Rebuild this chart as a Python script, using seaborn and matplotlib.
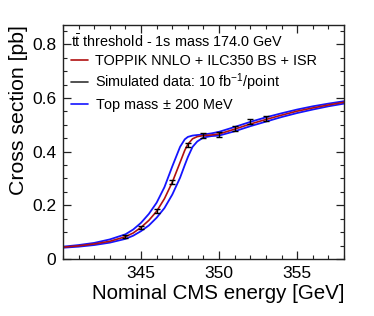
import matplotlib
matplotlib.use("Agg")
import matplotlib.pyplot as plt
import seaborn as sns
import pandas as pd
from matplotlib.lines import Line2D
from matplotlib.ticker import MultipleLocator, FixedLocator

sns.set_style("ticks")
plt.rcParams['font.family'] = ['Liberation Sans', 'DejaVu Sans']
plt.rcParams['mathtext.fontset'] = 'custom'
plt.rcParams['mathtext.rm'] = 'Liberation Sans'
plt.rcParams['mathtext.it'] = 'Liberation Sans'
plt.rcParams['text.color'] = 'black'
plt.rcParams['axes.labelcolor'] = 'black'
plt.rcParams['xtick.color'] = 'black'
plt.rcParams['ytick.color'] = 'black'

energy = [340, 341, 342, 343, 344, 344.5, 345, 345.5, 346, 346.5, 347, 347.5,
          347.8, 348, 348.3, 348.6, 349, 349.5, 350, 351, 352, 353, 354, 355,
          356, 357, 358]
xs_nominal = [0.044, 0.049, 0.056, 0.066, 0.083, 0.097, 0.118, 0.144, 0.178, 0.225,
              0.286, 0.360, 0.405, 0.428, 0.448, 0.456, 0.460, 0.462, 0.466, 0.484,
              0.503, 0.520, 0.536, 0.551, 0.563, 0.574, 0.584]
xs_mass_low = [0.046, 0.052, 0.060, 0.073, 0.092, 0.110, 0.135, 0.168, 0.210, 0.268,
               0.345, 0.418, 0.446, 0.455, 0.460, 0.462, 0.464, 0.468, 0.474, 0.492,
               0.511, 0.528, 0.543, 0.557, 0.569, 0.579, 0.588]
xs_mass_high = [0.042, 0.046, 0.052, 0.061, 0.075, 0.087, 0.104, 0.125, 0.154, 0.190,
                0.240, 0.303, 0.350, 0.380, 0.418, 0.438, 0.453, 0.458, 0.460, 0.476,
                0.495, 0.512, 0.529, 0.544, 0.557, 0.569, 0.579]

data_energy = [344, 345, 346, 347, 348, 349, 350, 351, 352, 353]
data_xs = [0.083, 0.118, 0.179, 0.286, 0.425, 0.459, 0.464, 0.485, 0.511, 0.525]
data_err = [0.005, 0.006, 0.007, 0.008, 0.009, 0.009, 0.009, 0.009, 0.009, 0.009]

x_ticks = [345, 350, 355]
y_ticks = [0, 0.2, 0.4, 0.6, 0.8]
y_tick_labels = ["0", "0.2", "0.4", "0.6", "0.8"]

fig = plt.figure(figsize=(3.74, 3.16), dpi=100)
ax = fig.add_axes([63/374, 57/316, (344-63)/374, (259-25)/316])

df = pd.DataFrame({"E": energy, "nom": xs_nominal, "lo": xs_mass_low, "hi": xs_mass_high})
blue = "#1414ff"
red = "#b01010"
sns.lineplot(data=df, x="E", y="lo", ax=ax, color=blue, lw=1.3)
sns.lineplot(data=df, x="E", y="hi", ax=ax, color=blue, lw=1.3)
sns.lineplot(data=df, x="E", y="nom", ax=ax, color=red, lw=1.2)
ax.errorbar(data_energy, data_xs, yerr=data_err, fmt='none', ecolor='black',
            elinewidth=1.0, capsize=2, capthick=1.0, zorder=5)

ax.set_xlim(340, 358)
ax.set_ylim(0, 0.872)
ax.xaxis.set_major_locator(FixedLocator(x_ticks))
ax.xaxis.set_minor_locator(MultipleLocator(1))
ax.yaxis.set_major_locator(FixedLocator(y_ticks))
ax.set_yticklabels(y_tick_labels)
ax.yaxis.set_minor_locator(MultipleLocator(0.05))
ax.tick_params(which='both', direction='in', top=True, right=True, labelsize=12.5,
               color='#222222', labelcolor='black')
ax.tick_params(axis='x', which='major', pad=5)
ax.tick_params(axis='y', which='major', pad=5)
ax.tick_params(which='major', length=6, width=0.9)
ax.tick_params(which='minor', length=3, width=0.8)
for s in ax.spines.values():
    s.set_linewidth(1.0)
    s.set_color('#222222')

ax.set_xlabel("Nominal CMS energy [GeV]", fontsize=14.8, loc='right', labelpad=2.5,
              color='black')
ax.set_ylabel("Cross section [pb]", fontsize=15.3, loc='top', labelpad=3, color='black')

handles = [Line2D([], [], color=red, lw=1.2),
           Line2D([], [], color='#333333', lw=1.2),
           Line2D([], [], color=blue, lw=1.2)]
labels = ["TOPPIK NNLO + ILC350 BS + ISR",
          "Simulated data: 10 fb$^{-1}$/point",
          "Top mass$\\,\\pm\\,$200 MeV"]
leg = ax.legend(handles, labels, title=r"$\mathrm{t\bar{t}}$ threshold - 1s mass 174.0 GeV",
                loc='upper left', bbox_to_anchor=(0.0, 1.0), frameon=False,
                fontsize=10.4, title_fontsize=10.4, alignment='left',
                handlelength=1.2, handletextpad=0.45, labelspacing=0.28,
                borderpad=0.35, borderaxespad=0.2)
leg._legend_box.align = "left"
for t in leg.get_texts():
    t.set_color('black')
leg.get_title().set_color('black')

fig.savefig("out.png", dpi=100)
